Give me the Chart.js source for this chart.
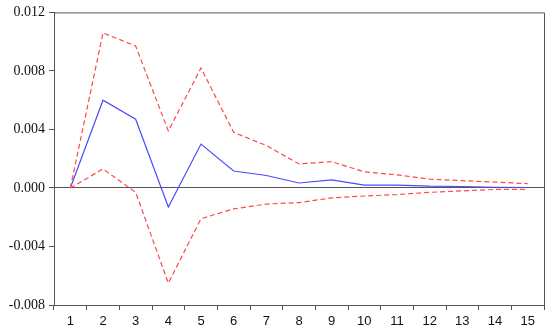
<!DOCTYPE html>
<html>
<head>
<meta charset="utf-8">
<script src="https://cdn.jsdelivr.net/npm/chart.js@4.4.0/dist/chart.umd.min.js"></script>
<style>
  html, body { margin: 0; padding: 0; background: #fff; }
  #wrap { width: 550px; height: 333px; }
</style>
</head>
<body>
<div id="wrap"><canvas id="irfChart"></canvas></div>
<script>
const periods = ['1', '2', '3', '4', '5', '6', '7', '8', '9', '10', '11', '12', '13', '14', '15'];
const response = [0, 0.0060, 0.0047, -0.0013, 0.0030, 0.00116, 0.00085, 0.00034, 0.00055, 0.0002, 0.0002, 0.00012, 0.0001, 0.00005, 0.00003];
const upperBand = [0, 0.0106, 0.0097, 0.0039, 0.0082, 0.0038, 0.0029, 0.00164, 0.0018, 0.0011, 0.0009, 0.0006, 0.0005, 0.0004, 0.0003];
const lowerBand = [0, 0.0013, -0.0003, -0.0065, -0.0021, -0.00143, -0.0011, -0.001, -0.00068, -0.00055, -0.00045, -0.0003, -0.0002, -0.0001, -0.0001];
const yTicks = [-0.008, -0.004, 0, 0.004, 0.008, 0.012];

const axisColor = '#555';

// box around the plot area (top and right sides)
const frame = {
    id: 'frame',
    afterDraw(chart) {
        const { ctx, chartArea: a } = chart;
        ctx.save();
        ctx.strokeStyle = axisColor;
        ctx.lineWidth = 1;
        ctx.beginPath();
        ctx.moveTo(a.left, a.top + 0.5);
        ctx.lineTo(a.right + 0.5, a.top + 0.5);
        ctx.lineTo(a.right + 0.5, a.bottom);
        ctx.stroke();
        ctx.restore();
    }
};

const ctx = document.getElementById('irfChart').getContext('2d');
new Chart(ctx, {
    type: 'line',
    data: {
        labels: periods,
        datasets: [
            {
                data: upperBand,
                borderColor: '#ff4848',
                borderWidth: 1.2,
                borderDash: [5, 3],
                pointRadius: 0,
                tension: 0
            },
            {
                data: lowerBand,
                borderColor: '#ff4848',
                borderWidth: 1.2,
                borderDash: [5, 3],
                pointRadius: 0,
                tension: 0
            },
            {
                data: response,
                borderColor: '#4a4aff',
                borderWidth: 1.2,
                pointRadius: 0,
                tension: 0
            }
        ]
    },
    options: {
        responsive: true,
        maintainAspectRatio: false,
        animation: false,
        layout: { padding: { top: 12, right: 6, left: 0, bottom: 0 } },
        plugins: {
            legend: { display: false },
            tooltip: { enabled: false }
        },
        scales: {
            x: {
                offset: true,
                grid: {
                    offset: true,
                    drawOnChartArea: false,
                    tickLength: 5,
                    color: axisColor
                },
                border: { color: axisColor },
                ticks: {
                    color: '#111',
                    font: { family: "'Liberation Sans', Arial, sans-serif", size: 13 },
                    padding: 4,
                    maxRotation: 0,
                    autoSkip: false
                },
                afterFit(scale) { scale.height = 28; }
            },
            y: {
                min: -0.008,
                max: 0.012,
                afterBuildTicks(scale) {
                    scale.ticks = yTicks.map(v => ({ value: v }));
                },
                grid: {
                    color: c => (c.tick && c.tick.value === 0 ? axisColor : 'rgba(0,0,0,0)'),
                    tickColor: axisColor,
                    tickLength: 5
                },
                border: { color: axisColor },
                ticks: {
                    color: '#111',
                    font: { family: "'Liberation Serif', 'Times New Roman', serif", size: 14 },
                    padding: 4,
                    callback: v => v.toFixed(3)
                },
                afterFit(scale) { scale.width = 54; }
            }
        }
    },
    plugins: [frame]
});
</script>
</body>
</html>
